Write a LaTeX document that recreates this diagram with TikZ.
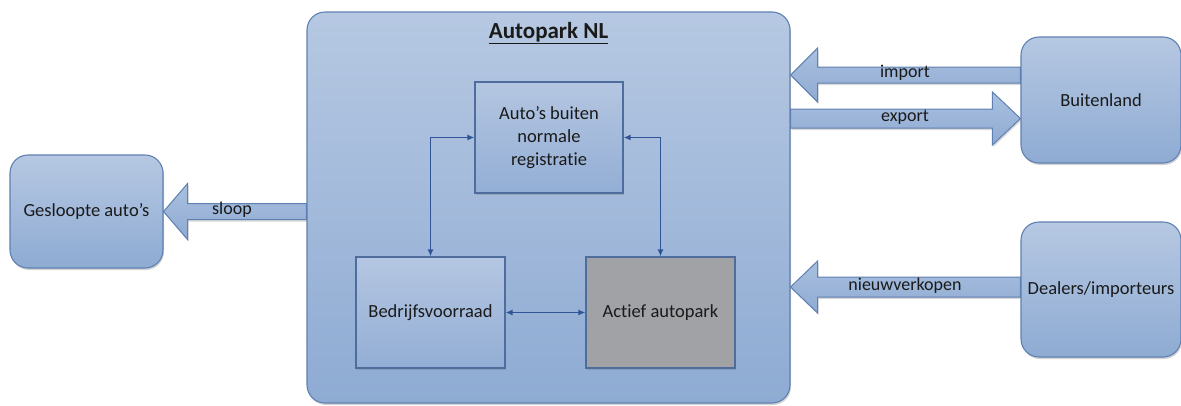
\documentclass[tikz,border=0pt]{standalone}
\usepackage{fontspec}
\setmainfont{Carlito}[Ligatures=NoCommon]
\usetikzlibrary{calc,shadows,arrows.meta}
\definecolor{bxtop}{HTML}{B6C8E2}
\definecolor{bxbot}{HTML}{8EABD3}
\definecolor{bxline}{HTML}{5F80B2}
\definecolor{intop}{HTML}{B4C6E1}
\definecolor{inbot}{HTML}{93AED5}
\definecolor{inline}{HTML}{4E6C9C}
\definecolor{grayfill}{HTML}{A0A2A6}
\definecolor{conn}{HTML}{2F5597}
\definecolor{txt}{HTML}{1A1A1A}
\definecolor{artop}{HTML}{A9C0DF}
\definecolor{arbot}{HTML}{8FAAD2}
\tikzset{
  outerbox/.style={draw=bxline, line width=1.1pt, rounded corners=18pt, top color=bxtop, bottom color=bxbot,
    drop shadow={shadow xshift=1pt, shadow yshift=-2pt, opacity=0.35}, inner sep=0pt, text=txt, font=\fontsize{18.5}{22}\selectfont},
  innerbox/.style={draw=inline, line width=1.1pt, top color=intop, bottom color=inbot,
    drop shadow={shadow xshift=1pt, shadow yshift=-2pt, opacity=0.35}, inner sep=0pt, text=txt, font=\fontsize{18.5}{23}\selectfont, align=center},
  graybox/.style={draw=inline, line width=1.1pt, fill=grayfill,
    drop shadow={shadow xshift=1pt, shadow yshift=-2pt, opacity=0.35}, inner sep=0pt, text=txt, font=\fontsize{18.5}{23}\selectfont},
  blockarrow/.style={draw=bxline, line width=1pt, top color=artop, bottom color=arbot, line join=miter,
    drop shadow={shadow xshift=1pt, shadow yshift=-2pt, opacity=0.3}},
  conn/.style={draw=conn, line width=1.4pt, {Latex[length=7pt,width=6pt]}-{Latex[length=7pt,width=6pt]}},
  lbl/.style={text=txt, font=\fontsize{18}{20}\selectfont, inner sep=0pt},
}
% #1 tip, #2 tail x-node, #3 shaft half, #4 head half, #5 head length (signed)
\newcommand{\bigarrow}[5]{%
  \path[blockarrow] (#1) -- ($(#1)+(#5,-#4)$) -- ($(#1)+(#5,-#3)$) -- ($(#2 |- #1)+(0,-#3)$)
    -- ($(#2 |- #1)+(0,#3)$) -- ($(#1)+(#5,#3)$) -- ($(#1)+(#5,#4)$) -- cycle;}
\begin{document}
\begin{tikzpicture}[x=1pt,y=-1pt]
\useasboundingbox (0,0) rectangle (1181,405);
% outer boxes
\node[outerbox, minimum width=483pt, minimum height=391pt] (main) at (548.5,207.5) {};
\node[outerbox, minimum width=153pt, minimum height=113pt] (gesl) at (86.5,211.5) {Gesloopte auto’s};
\node[outerbox, minimum width=160pt, minimum height=126pt] (buit) at (1101,100) {Buitenland};
\node[outerbox, minimum width=160pt, minimum height=135pt] (deal) at (1101,289.5) {Dealers/importeurs};
\node[text=txt, font=\fontsize{23}{26}\selectfont\bfseries, inner sep=0pt] (title) at (548.5,33) {\underline{Autopark NL}};
% inner boxes
\node[innerbox, minimum width=148pt, minimum height=111pt] (reg) at (549,137.5) {Auto’s buiten\\normale\\registratie};
\node[innerbox, minimum width=149pt, minimum height=111pt] (bedr) at (430.5,312.5) {Bedrijfsvoorraad};
\node[graybox, minimum width=149pt, minimum height=111pt] (act) at (660.5,312.5) {Actief autopark};
% connectors
\draw[conn] (reg.west) -| (bedr.north);
\draw[conn] (reg.east) -| (act.north);
\draw[conn] (bedr.east) -- (act.west);
% block arrows
\coordinate (sloopTip) at (gesl.east);
\bigarrow{sloopTip}{main.west}{8}{28}{24}
\coordinate (impTip) at (main.east |- 0,75);
\bigarrow{impTip}{buit.west}{8}{27}{27}
\coordinate (expTip) at (buit.west |- 0,118.5);
\bigarrow{expTip}{main.east}{9.5}{26.5}{-28}
\coordinate (nieuwTip) at (main.east |- 0,287);
\bigarrow{nieuwTip}{deal.west}{10}{26}{27}
% labels
\node[lbl] (lsloop) at (232,210) {sloop};
\node[lbl] (limp) at (905,73) {import};
\node[lbl] (lexp) at (905,117) {export};
\node[lbl] (lnieuw) at (905,286) {nieuwverkopen};
\end{tikzpicture}
\end{document}
